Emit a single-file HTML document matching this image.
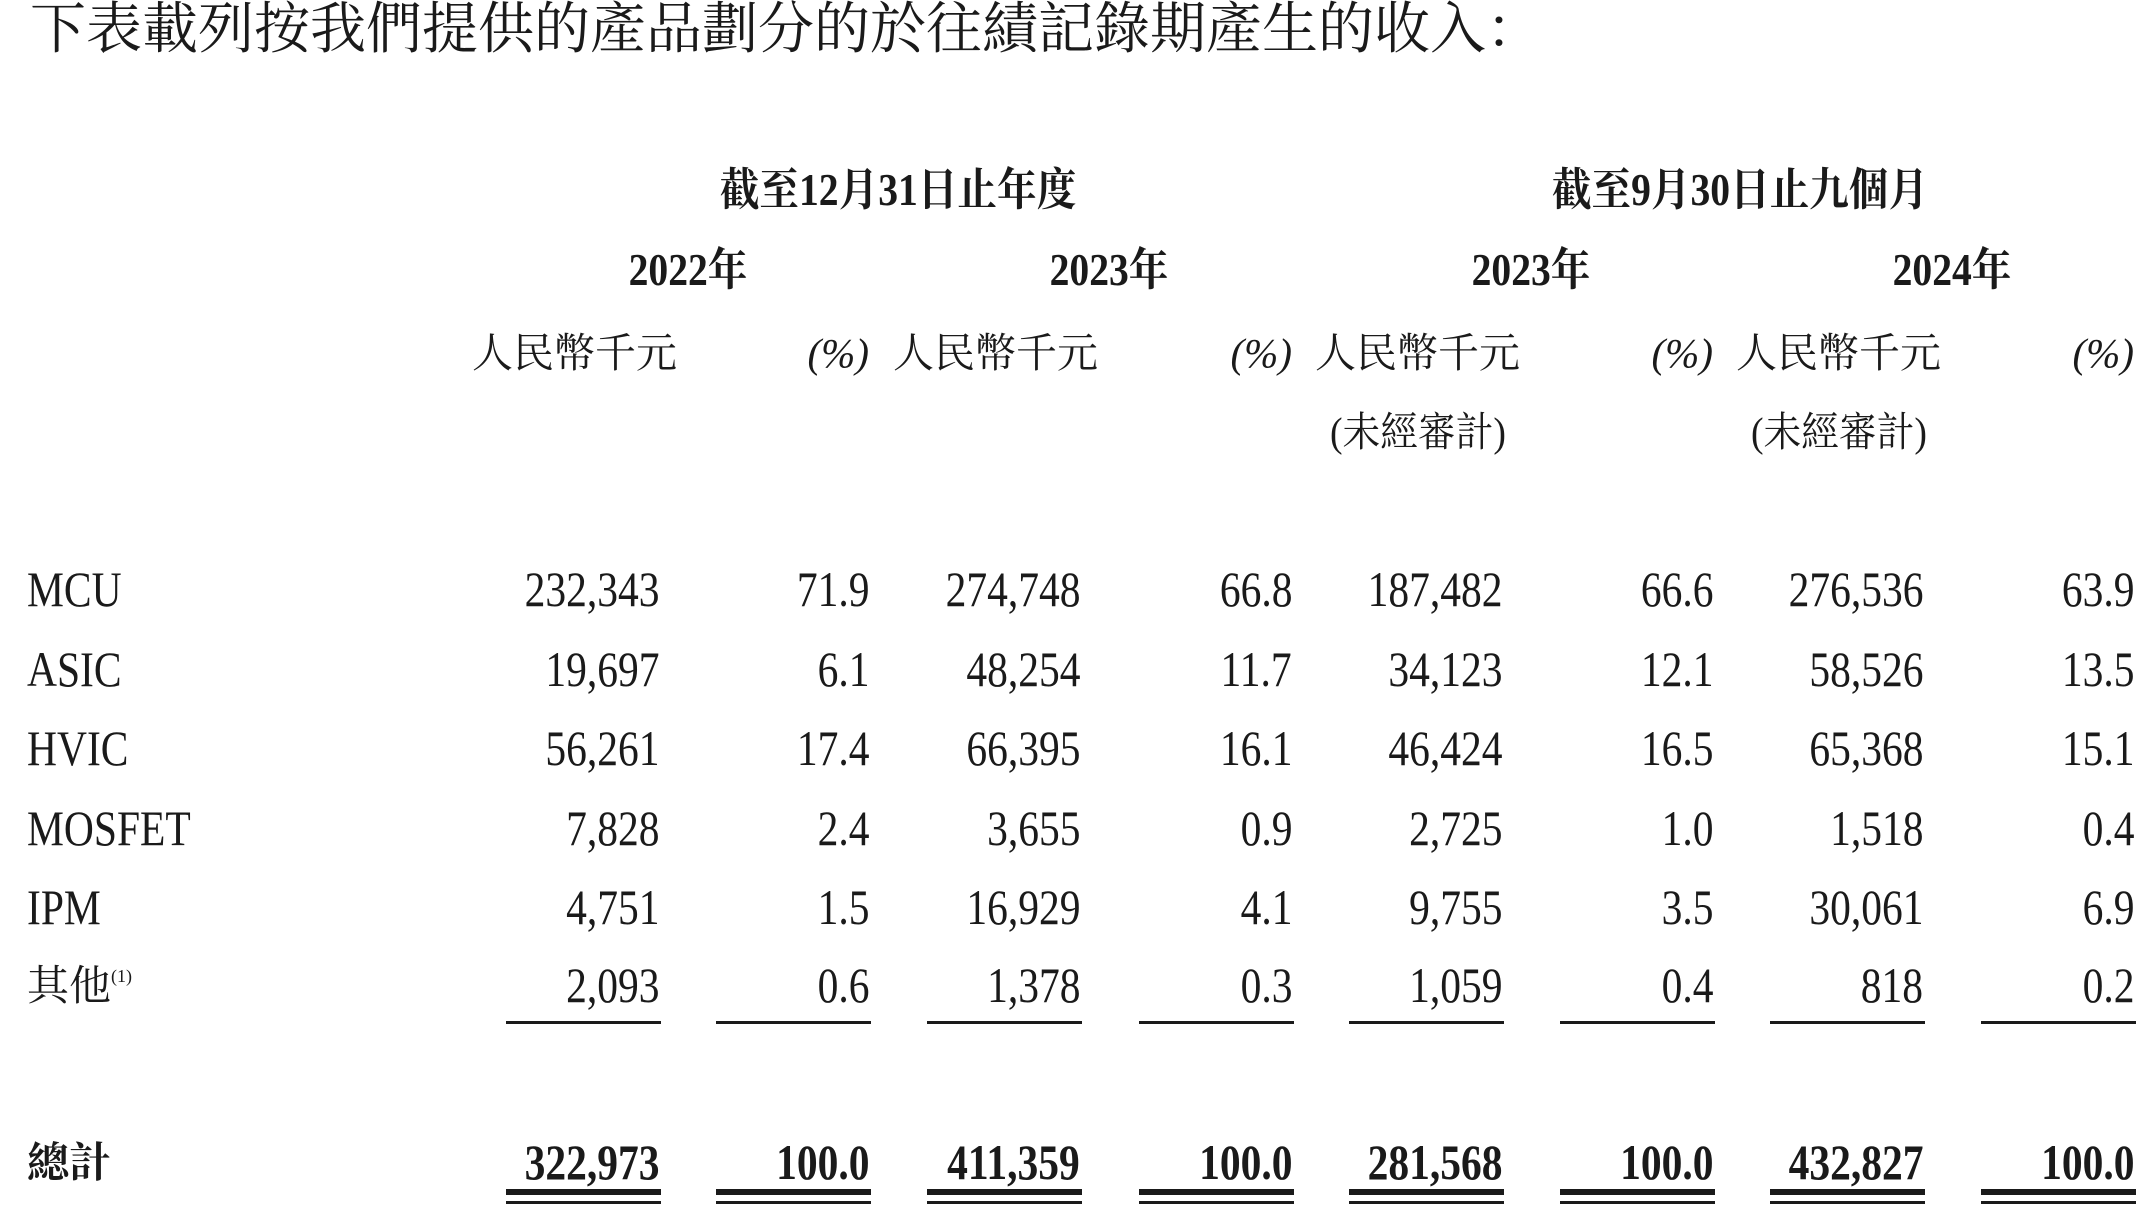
<!DOCTYPE html>
<html><head><meta charset="utf-8">
<style>
html,body{margin:0;padding:0;background:#fff;}
body{width:2144px;height:1220px;position:relative;overflow:hidden;color:#1a1a1a;font-family:"Liberation Serif","Noto Serif CJK SC",serif;}
.t{position:absolute;white-space:nowrap;line-height:1;}
.num{font-size:50px;transform:scaleX(0.83);transform-origin:right center;text-align:right;}
.lbl{font-size:50px;transform:scaleX(0.83);transform-origin:left center;}
.hd{font-size:41px;}
.bh{font-size:45px;font-weight:bold;}
.ln{position:absolute;background:#1a1a1a;}
</style></head>
<body>
<div class="t" style="left:30px;top:2px;font-size:56px;">下表載列按我們提供的產品劃分的於往績記錄期產生的收入：</div>
<div class="t bh" style="left:898px;top:168px;transform:translateX(-50%) scaleX(0.88);">截至12月31日止年度</div>
<div class="t bh" style="left:1740px;top:168px;transform:translateX(-50%) scaleX(0.88);">截至9月30日止九個月</div>
<script>
const years=["2022年","2023年","2023年","2024年"];
const categories=["MCU","ASIC","HVIC","MOSFET","IPM","其他"];
const amt2022=["232,343","19,697","56,261","7,828","4,751","2,093"];
const pct2022=["71.9","6.1","17.4","2.4","1.5","0.6"];
const amt2023=["274,748","48,254","66,395","3,655","16,929","1,378"];
const pct2023=["66.8","11.7","16.1","0.9","4.1","0.3"];
const amt9m2023=["187,482","34,123","46,424","2,725","9,755","1,059"];
const pct9m2023=["66.6","12.1","16.5","1.0","3.5","0.4"];
const amt9m2024=["276,536","58,526","65,368","1,518","30,061","818"];
const pct9m2024=["63.9","13.5","15.1","0.4","6.9","0.2"];
const totals=["322,973","100.0","411,359","100.0","281,568","100.0","432,827","100.0"];

const colRight=[659,869,1080,1292,1502,1713,1923,2134];
const rowY=[592,672,751,831,910,988];
const totalY=1165;
const cols=[amt2022,pct2022,amt2023,pct2023,amt9m2023,pct9m2023,amt9m2024,pct9m2024];
const root=document.body;
function add(cls,text,style,name){
  const d=document.createElement('div');
  d.className='t '+cls;
  d.textContent=text;
  d.setAttribute('style',style);
  
  
  root.appendChild(d);
  return d;
}
years.forEach((y,i)=>{
  const cx=colRight[i*2]+29;
  add('bh',y,'left:'+cx+'px;top:248px;transform:translateX(-50%) scaleX(0.88);','year-header-'+i);
  add('hd','人民幣千元','right:'+(2144-colRight[i*2]-18)+'px;top:333px;','currency-header-'+i);
  add('hd','(%)','right:'+(2144-colRight[i*2+1])+'px;top:333px;font-style:italic;','percent-header-'+i);
  if(i>=2){
    const c=colRight[i*2]-84;
    add('hd','(未經審計)','left:'+c+'px;top:412px;transform:translateX(-50%) scaleX(0.92);','unaudited-note-'+i);
  }
});
categories.forEach((c,r)=>{
  const top=rowY[r]-28;
  if(c==='其他'){
    const d=add('hd','其他','left:27px;top:'+(rowY[r]-22)+'px;font-size:42px;','row-label-other');
    const s=document.createElement('span');
    s.textContent='(1)';
    s.style.fontSize='18px';s.style.verticalAlign='18px';
    d.appendChild(s);
  } else {
    add('lbl',c,'left:27px;top:'+top+'px;','row-label-'+c.toLowerCase());
  }
  cols.forEach((col,j)=>{
    add('num',col[r],'right:'+(2144-colRight[j])+'px;top:'+top+'px;','cell-'+c.toLowerCase()+'-'+j);
  });
});
add('hd','總計','left:27px;top:'+(totalY-22)+'px;font-size:42px;font-weight:bold;','row-label-total');
totals.forEach((v,j)=>{
  add('num',v,'right:'+(2144-colRight[j])+'px;top:'+(totalY-28)+'px;font-weight:bold;','total-cell-'+j);
});
colRight.forEach((x,j)=>{
  const mk=(top,h,name)=>{
    const l=document.createElement('div');
    l.className='ln';
    l.setAttribute('style','left:'+(x-153)+'px;width:155px;top:'+top+'px;height:'+h+'px;');
    
    
    root.appendChild(l);
  };
  mk(1021,3,'subtotal-line-'+j);
  mk(1189,6,'total-double-line-top-'+j);
  mk(1201,3,'total-double-line-bottom-'+j);
});
</script>
</body></html>
